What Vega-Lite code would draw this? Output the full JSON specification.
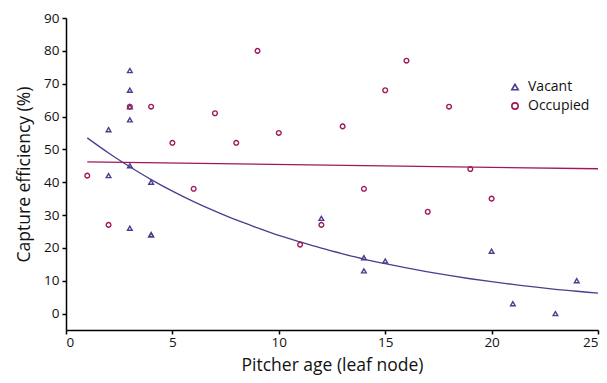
{
  "$schema": "https://vega.github.io/schema/vega-lite/v6.json",
  "width": 532,
  "height": 312,
  "autosize": {"type": "none"},
  "padding": {"left": 66, "top": 18, "right": 9, "bottom": 53},
  "background": "white",
  "config": {
    "font": "Open Sans",
    "view": {"stroke": null},
    "axis": {"grid": false, "domainColor": "black", "tickColor": "black", "labelColor": "#111111", "titleColor": "#111111", "labelFont": "Open Sans", "titleFont": "Open Sans", "titleFontWeight": "normal", "labelFontSize": 13.5, "titleFontSize": 17.5, "domainWidth": 1.5, "tickWidth": 1.5, "labelOverlap": false}
  },
  "datasets": {
    "pts": [
      {"age": 2, "eff": 56, "group": "Vacant"},
      {"age": 2, "eff": 42, "group": "Vacant"},
      {"age": 3, "eff": 74, "group": "Vacant"},
      {"age": 3, "eff": 68, "group": "Vacant"},
      {"age": 3, "eff": 63, "group": "Vacant"},
      {"age": 3, "eff": 59, "group": "Vacant"},
      {"age": 3, "eff": 45, "group": "Vacant"},
      {"age": 3, "eff": 26, "group": "Vacant"},
      {"age": 4, "eff": 40, "group": "Vacant"},
      {"age": 4, "eff": 24, "group": "Vacant"},
      {"age": 4, "eff": 24, "group": "Vacant"},
      {"age": 12, "eff": 29, "group": "Vacant"},
      {"age": 14, "eff": 17, "group": "Vacant"},
      {"age": 14, "eff": 13, "group": "Vacant"},
      {"age": 15, "eff": 16, "group": "Vacant"},
      {"age": 20, "eff": 19, "group": "Vacant"},
      {"age": 21, "eff": 3, "group": "Vacant"},
      {"age": 23, "eff": 0, "group": "Vacant"},
      {"age": 24, "eff": 10, "group": "Vacant"},
      {"age": 1, "eff": 42, "group": "Occupied"},
      {"age": 2, "eff": 27, "group": "Occupied"},
      {"age": 3, "eff": 63, "group": "Occupied"},
      {"age": 4, "eff": 63, "group": "Occupied"},
      {"age": 5, "eff": 52, "group": "Occupied"},
      {"age": 6, "eff": 38, "group": "Occupied"},
      {"age": 7, "eff": 61, "group": "Occupied"},
      {"age": 8, "eff": 52, "group": "Occupied"},
      {"age": 9, "eff": 80, "group": "Occupied"},
      {"age": 10, "eff": 55, "group": "Occupied"},
      {"age": 11, "eff": 21, "group": "Occupied"},
      {"age": 12, "eff": 27, "group": "Occupied"},
      {"age": 13, "eff": 57, "group": "Occupied"},
      {"age": 14, "eff": 38, "group": "Occupied"},
      {"age": 15, "eff": 68, "group": "Occupied"},
      {"age": 16, "eff": 77, "group": "Occupied"},
      {"age": 17, "eff": 31, "group": "Occupied"},
      {"age": 18, "eff": 63, "group": "Occupied"},
      {"age": 19, "eff": 44, "group": "Occupied"},
      {"age": 20, "eff": 35, "group": "Occupied"}
    ],
    "fit": [
      {"age": 1, "eff": 53.5, "group": "Vacant"},
      {"age": 2, "eff": 48.9, "group": "Vacant"},
      {"age": 3, "eff": 44.7, "group": "Vacant"},
      {"age": 4, "eff": 40.8, "group": "Vacant"},
      {"age": 5, "eff": 37.3, "group": "Vacant"},
      {"age": 6, "eff": 34.1, "group": "Vacant"},
      {"age": 7, "eff": 31.2, "group": "Vacant"},
      {"age": 8, "eff": 28.5, "group": "Vacant"},
      {"age": 9, "eff": 26.1, "group": "Vacant"},
      {"age": 10, "eff": 23.8, "group": "Vacant"},
      {"age": 11, "eff": 21.8, "group": "Vacant"},
      {"age": 12, "eff": 19.9, "group": "Vacant"},
      {"age": 13, "eff": 18.2, "group": "Vacant"},
      {"age": 14, "eff": 16.6, "group": "Vacant"},
      {"age": 15, "eff": 15.2, "group": "Vacant"},
      {"age": 16, "eff": 13.9, "group": "Vacant"},
      {"age": 17, "eff": 12.7, "group": "Vacant"},
      {"age": 18, "eff": 11.6, "group": "Vacant"},
      {"age": 19, "eff": 10.6, "group": "Vacant"},
      {"age": 20, "eff": 9.7, "group": "Vacant"},
      {"age": 21, "eff": 8.9, "group": "Vacant"},
      {"age": 22, "eff": 8.1, "group": "Vacant"},
      {"age": 23, "eff": 7.4, "group": "Vacant"},
      {"age": 24, "eff": 6.8, "group": "Vacant"},
      {"age": 25, "eff": 6.2, "group": "Vacant"},
      {"age": 1, "eff": 46.2, "group": "Occupied"},
      {"age": 25, "eff": 44.1, "group": "Occupied"}
    ]
  },
  "encoding": {
    "x": {
      "field": "age", "type": "quantitative",
      "scale": {"domain": [0, 25], "nice": false, "zero": false},
      "axis": {"values": [0, 5, 10, 15, 20, 25], "ticks": true, "tickSize": 4, "labelPadding": 1, "labelOverlap": false, "title": "Pitcher age (leaf node)", "titlePadding": 8}
    },
    "y": {
      "field": "eff", "type": "quantitative",
      "scale": {"domain": [-5, 90], "nice": false, "zero": false},
      "axis": {"values": [0, 10, 20, 30, 40, 50, 60, 70, 80, 90], "ticks": true, "tickSize": 4, "labelPadding": 3, "labelOverlap": false, "labelFlush": false, "title": "Capture efficiency (%)", "titlePadding": 10}
    }
  },
  "layer": [
    {
      "data": {"name": "fit"},
      "transform": [{"filter": "datum.group === 'Vacant'"}],
      "mark": {"type": "line", "color": "#4B3E8F", "strokeWidth": 1.3, "interpolate": "monotone"}
    },
    {
      "data": {"name": "fit"},
      "transform": [{"filter": "datum.group === 'Occupied'"}],
      "mark": {"type": "line", "color": "#A0185A", "strokeWidth": 1.3}
    },
    {
      "data": {"name": "pts"},
      "mark": {"type": "point", "filled": false, "strokeWidth": 1.4, "size": 22, "opacity": 1},
      "encoding": {
        "color": {
          "field": "group", "type": "nominal",
          "scale": {"domain": ["Vacant", "Occupied"], "range": ["#4B3E8F", "#A0185A"]},
          "legend": {"title": null, "orient": "none", "legendX": 442, "legendY": 62, "labelFontSize": 14, "labelFont": "Open Sans", "labelColor": "#111111", "symbolSize": 40, "symbolStrokeWidth": 1.6, "rowPadding": 5, "labelOffset": 6}
        },
        "shape": {
          "field": "group", "type": "nominal",
          "scale": {"domain": ["Vacant", "Occupied"], "range": ["triangle-up", "circle"]},
          "legend": {"title": null, "orient": "none", "legendX": 442, "legendY": 62, "labelFontSize": 14, "labelFont": "Open Sans", "labelColor": "#111111", "symbolSize": 40, "symbolStrokeWidth": 1.6, "rowPadding": 5, "labelOffset": 6}
        }
      }
    }
  ]
}
